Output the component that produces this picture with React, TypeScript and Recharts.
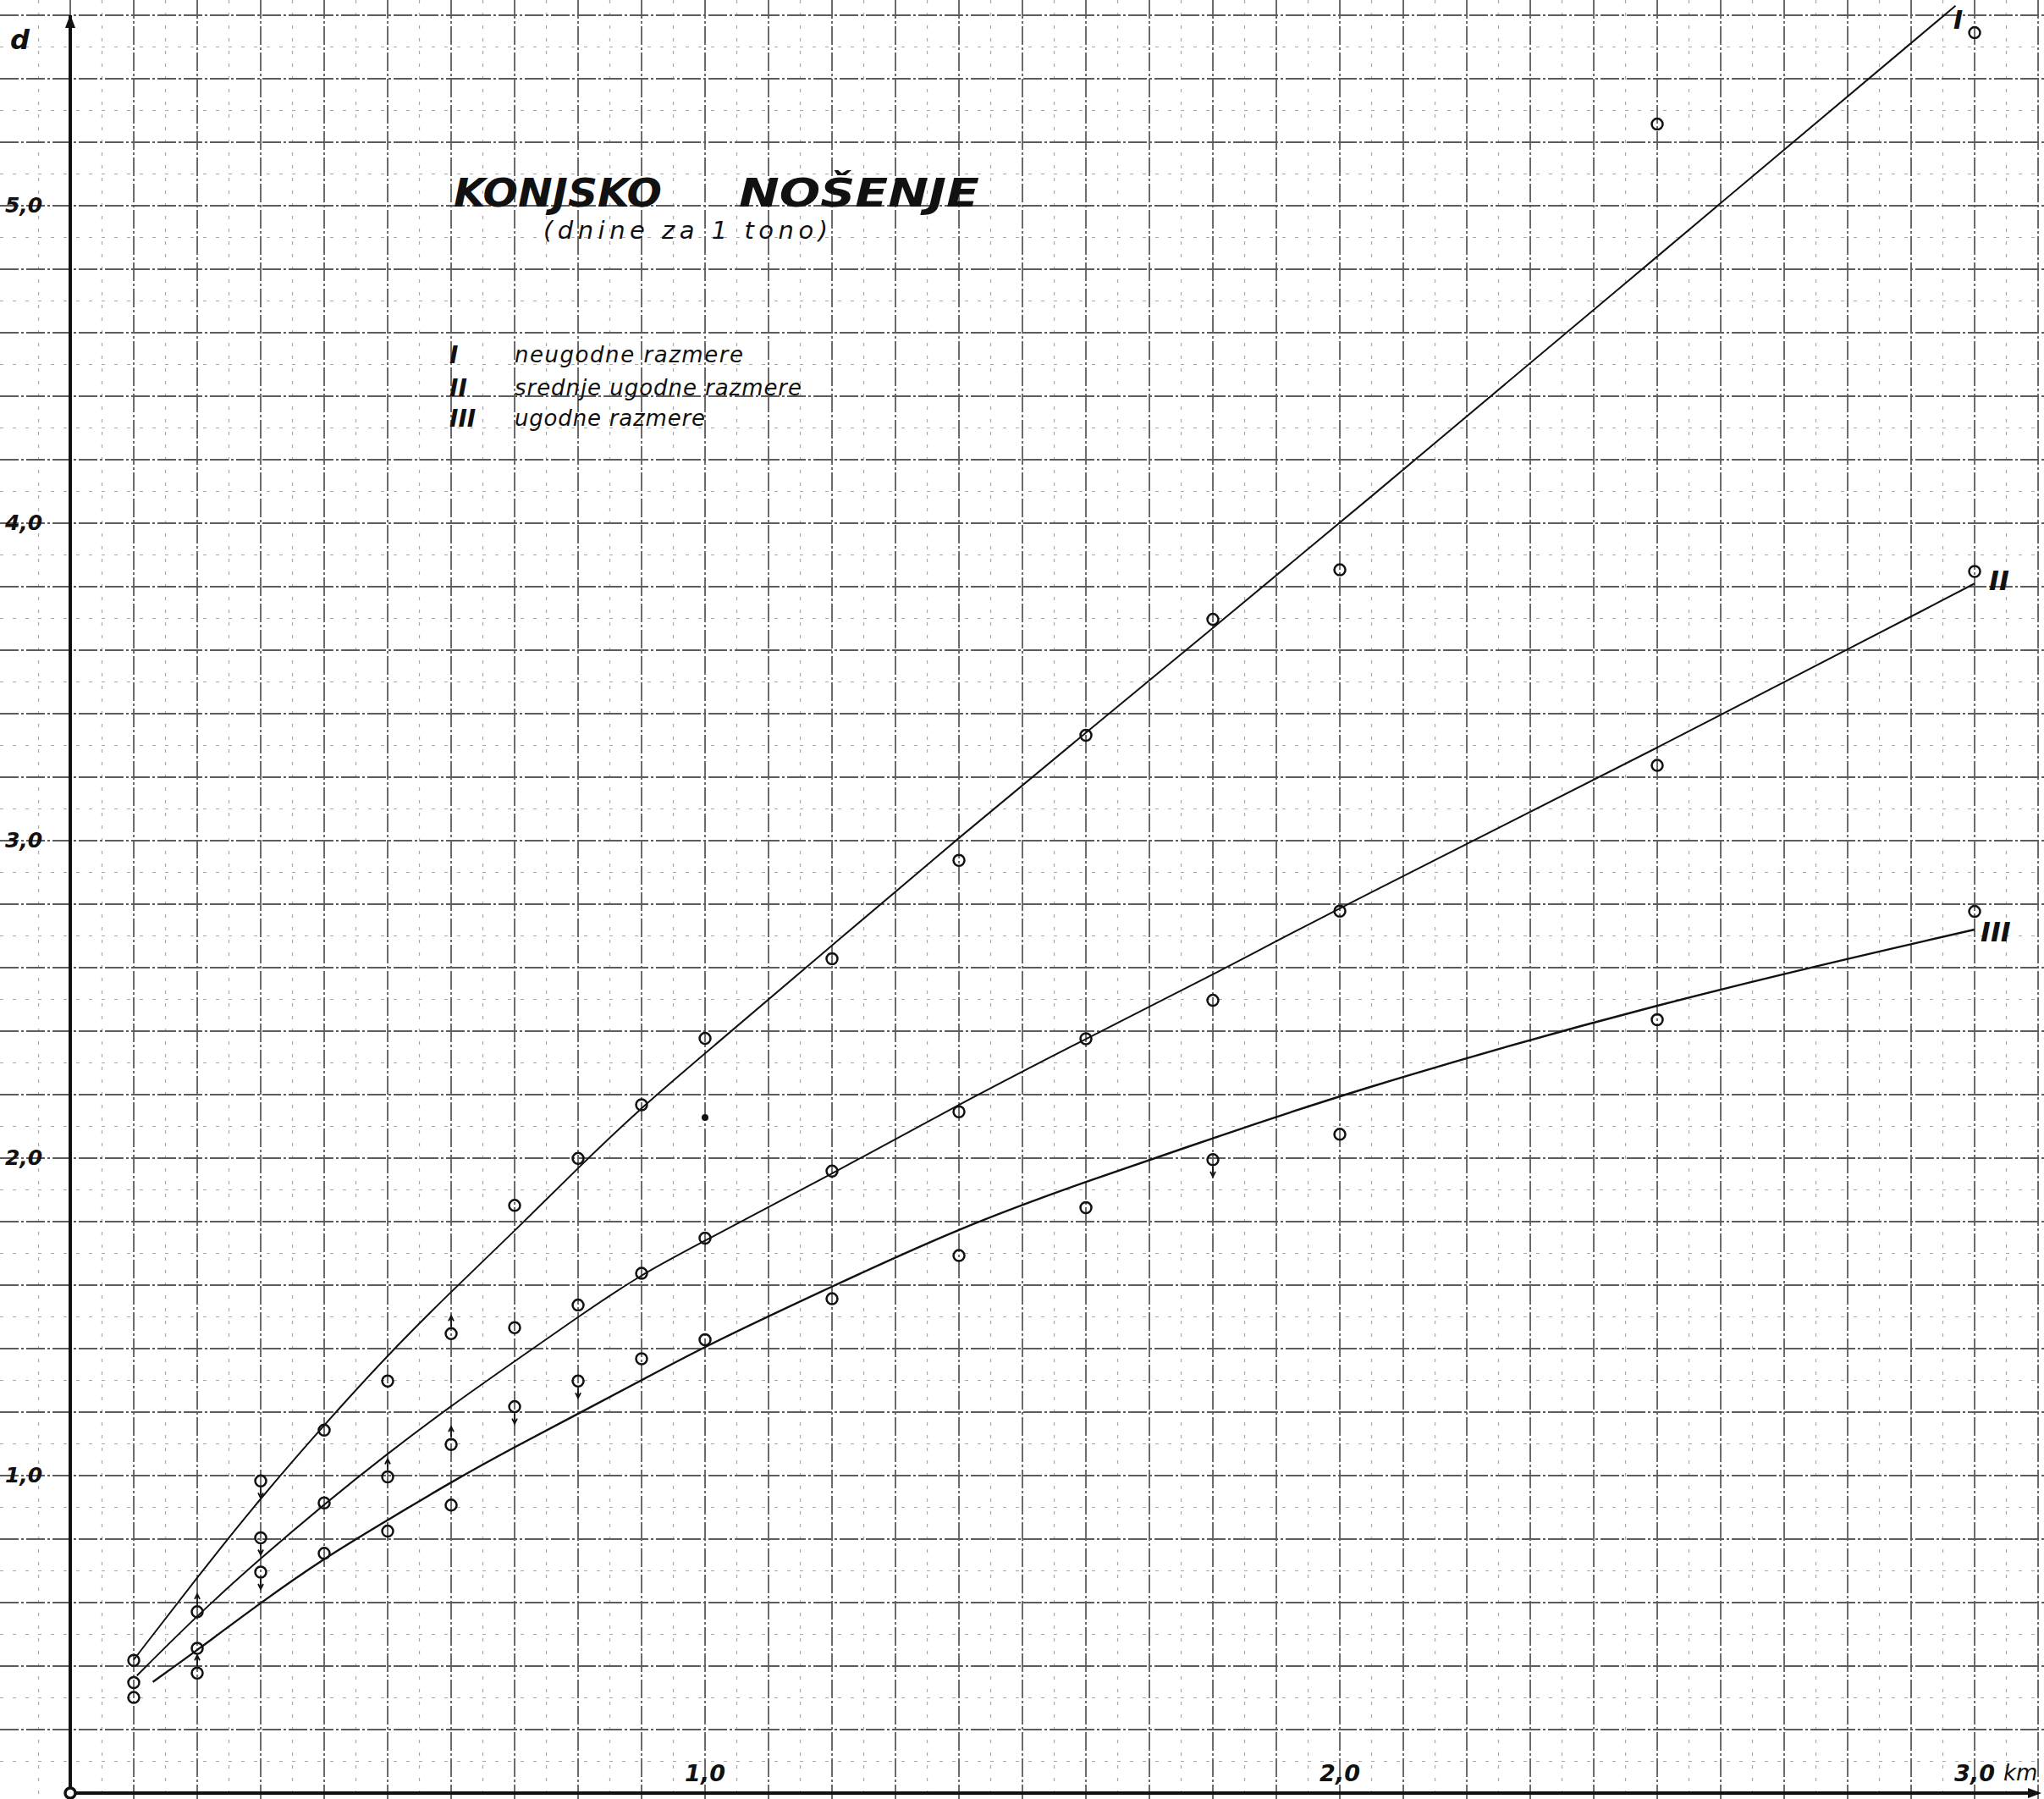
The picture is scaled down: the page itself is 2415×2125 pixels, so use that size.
import React from "react";
import {
  CartesianGrid,
  ComposedChart,
  Line,
  ReferenceDot,
  ReferenceLine,
  Scatter,
  XAxis,
  YAxis,
} from "recharts";

const W = 2415;
const H = 2125;

// razdalja v km (os x) in dnine za 1 tono (os y)
const X_DOMAIN: [number, number] = [-0.1107, 3.1093];
const Y_DOMAIN: [number, number] = [-0.0187, 5.648];

const distances = [0.1, 0.2, 0.3, 0.4, 0.5, 0.6, 0.7, 0.8, 0.9, 1.0, 1.2, 1.4, 1.6, 1.8, 2.0, 2.5, 3.0];
const measuredUpper = [0.418, 0.571, 0.983, 1.143, 1.298, 1.447, 1.851, 1.999, 2.168, 2.377, 2.628, 2.938, 3.332, 3.697, 3.853, 5.257, 5.545];
const measuredMiddle = [0.348, 0.456, 0.804, 0.914, 0.996, 1.098, 1.466, 1.537, 1.637, 1.748, 1.959, 2.146, 2.376, 2.497, 2.778, 3.237, 3.848];
const measuredLower = [0.301, 0.378, 0.696, 0.755, 0.825, 0.907, 1.217, 1.298, 1.368, 1.428, 1.557, 1.693, 1.844, 1.995, 2.075, 2.436, 2.777];
// puščice ob posameznih meritvah
const marksUpper = ["", "up", "down", "", "", "up", "", "", "", "", "", "", "", "", "", "", ""];
const marksMiddle = ["", "", "down", "", "up", "up", "", "", "", "", "", "", "", "", "", "", ""];
const marksLower = ["", "up", "down", "", "", "", "down", "down", "", "", "", "", "", "down", "", "", ""];
const looseDotKm = [1.0];
const looseDotDays = [2.128];

// izravnane krivulje I, II, III
const curveIKm = [0.1, 0.2, 0.3, 0.4, 0.5, 0.6, 0.7, 0.8, 0.9, 1.0, 1.2, 1.4, 1.6, 1.8, 2.0, 2.5, 2.97];
const curveIDays = [0.42, 0.68, 0.93, 1.16, 1.38, 1.58, 1.77, 1.97, 2.16, 2.33, 2.67, 3.01, 3.34, 3.67, 4.0, 4.84, 5.63];
const curveIIKm = [0.105, 0.2, 0.3, 0.4, 0.5, 0.6, 0.7, 0.8, 0.9, 1.0, 1.2, 1.4, 1.6, 1.8, 2.0, 2.5, 3.0];
const curveIIDays = [0.37, 0.56, 0.74, 0.91, 1.07, 1.22, 1.36, 1.5, 1.635, 1.74, 1.95, 2.17, 2.376, 2.577, 2.79, 3.29, 3.81];
const curveIIIKm = [0.13, 0.2, 0.3, 0.4, 0.5, 0.6, 0.7, 0.8, 0.9, 1.0, 1.2, 1.4, 1.6, 1.8, 2.0, 2.5, 3.0];
const curveIIIDays = [0.35, 0.45, 0.6, 0.74, 0.86, 0.98, 1.09, 1.195, 1.3, 1.408, 1.596, 1.78, 1.927, 2.062, 2.2, 2.49, 2.72];

const kmTicks = [1, 2, 3];
const kmTickLabels = ["1,0", "2,0", "3,0"];
const dayTicks = [1, 2, 3, 4, 5];
const dayTickLabels = ["1,0", "2,0", "3,0", "4,0", "5,0"];

const legendNumerals = ["I", "II", "III"];
const legendTexts = ["neugodne razmere", "srednje ugodne razmere", "ugodne razmere"];

// milimetrski papir: polne črte na 0,1 km / 0,2 dnine, vmesne črtkane
const gridKmMajor = Array.from({ length: 33 }, (_, i) => Math.round((i - 1) * 10) / 100);
const gridKmMinor = Array.from({ length: 32 }, (_, i) => Math.round(i * 10 - 5) / 100);
const gridDaysMajor = Array.from({ length: 29 }, (_, i) => Math.round(i * 2) / 10);
const gridDaysMinor = Array.from({ length: 28 }, (_, i) => Math.round(i * 2 + 1) / 10);

const toPoints = (xs: number[], ys: number[], marks?: string[]) =>
  xs.map((x, i) => ({ x, y: ys[i], mark: marks ? marks[i] : "" }));

const FONT = "'DejaVu Sans', sans-serif";
const INK = "#111";

function Ring(props: any) {
  const { cx, cy } = props;
  if (cx == null || cy == null) return null;
  const mark = props.payload?.mark ?? props.mark;
  return (
    <g>
      <circle cx={cx} cy={cy} r={6.5} fill="none" stroke={INK} strokeWidth={2.5} />
      {mark === "up" && (
        <g stroke={INK} strokeWidth={1.8} fill="none">
          <line x1={cx} y1={cy - 8} x2={cx} y2={cy - 20} />
          <path d={`M${cx - 3},${cy - 15} L${cx},${cy - 21} L${cx + 3},${cy - 15}`} />
        </g>
      )}
      {mark === "down" && (
        <g stroke={INK} strokeWidth={1.8} fill="none">
          <line x1={cx} y1={cy + 8} x2={cx} y2={cy + 19} />
          <path d={`M${cx - 3},${cy + 14} L${cx},${cy + 20} L${cx + 3},${cy + 14}`} />
        </g>
      )}
    </g>
  );
}

function Blob(props: any) {
  const { cx, cy } = props;
  if (cx == null || cy == null) return null;
  return <circle cx={cx} cy={cy} r={4} fill={INK} />;
}

function UpArrow(props: any) {
  const { cx, cy } = props;
  if (cx == null || cy == null) return null;
  return <path d={`M${cx},${cy - 1} L${cx - 6},${cy + 15} L${cx + 6},${cy + 15} Z`} fill={INK} />;
}

function RightArrow(props: any) {
  const { cx, cy } = props;
  if (cx == null || cy == null) return null;
  return <path d={`M${cx + 4},${cy} L${cx - 12},${cy - 6} L${cx - 12},${cy + 6} Z`} fill={INK} />;
}

function OriginRing(props: any) {
  const { cx, cy } = props;
  if (cx == null || cy == null) return null;
  return <circle cx={cx} cy={cy} r={6} fill="#fff" stroke={INK} strokeWidth={3.5} />;
}

// oznake osi x stojijo tik nad osjo
function KmLabel(props: any & { idx: number }) {
  const { cx, cy, idx } = props;
  if (cx == null || cy == null) return null;
  return (
    <g fontFamily={FONT} fill={INK} fontStyle="italic">
      <text x={cx} y={cy - 14} textAnchor="middle" fontWeight={700} fontSize={27}>
        {kmTickLabels[idx]}
      </text>
      {idx === kmTicks.length - 1 && (
        <text x={cx + 34} y={cy - 15} fontSize={26}>
          km
        </text>
      )}
    </g>
  );
}

// oznake osi y stojijo levo od osi, na sami črti
function DayLabel(props: any & { idx: number }) {
  const { cx, cy, idx } = props;
  if (cx == null || cy == null) return null;
  return (
    <text x={cx - 55} y={cy + 8} textAnchor="middle" fontFamily={FONT} fontStyle="italic" fontWeight={700} fontSize={25} fill={INK}>
      {dayTickLabels[idx]}
    </text>
  );
}

export default function App() {
  const upper = toPoints(distances, measuredUpper, marksUpper);
  const middle = toPoints(distances, measuredMiddle, marksMiddle);
  const lower = toPoints(distances, measuredLower, marksLower);
  const loose = toPoints(looseDotKm, looseDotDays);

  return (
    <div style={{ position: "absolute", left: 0, top: 0, width: W, height: H, background: "#fff" }}>
      <ComposedChart width={W} height={H} margin={{ top: 0, right: 0, bottom: 0, left: 0 }}>
        <CartesianGrid
          verticalValues={gridKmMinor}
          horizontalValues={gridDaysMinor}
          stroke="#a8a8a8"
          strokeWidth={1.2}
          strokeDasharray="4 11"
        />
        <CartesianGrid
          verticalValues={gridKmMajor}
          horizontalValues={gridDaysMajor}
          stroke="#5c5c5c"
          strokeWidth={1.8}
          strokeDasharray="22 3 3 3"
        />
        <XAxis type="number" dataKey="x" domain={X_DOMAIN} allowDataOverflow ticks={kmTicks} hide />
        <YAxis type="number" dataKey="y" domain={Y_DOMAIN} allowDataOverflow ticks={dayTicks} hide />

        {/* osi */}
        <ReferenceLine segment={[{ x: 0, y: 0 }, { x: 0, y: 5.6 }]} stroke={INK} strokeWidth={4} />
        <ReferenceLine segment={[{ x: 0, y: 0 }, { x: 3.1, y: 0 }]} stroke={INK} strokeWidth={4} />
        <ReferenceDot x={0} y={5.6} r={1} shape={(p: any) => <UpArrow {...p} />} />
        <ReferenceDot x={3.1} y={0} r={1} shape={(p: any) => <RightArrow {...p} />} />
        {kmTicks.map((v, i) => (
          <ReferenceDot key={`km-${v}`} x={v} y={0} r={1} shape={(p: any) => <KmLabel {...p} idx={i} />} />
        ))}
        {dayTicks.map((v, i) => (
          <ReferenceDot key={`d-${v}`} x={0} y={v} r={1} shape={(p: any) => <DayLabel {...p} idx={i} />} />
        ))}

        <Line data={toPoints(curveIKm, curveIDays)} dataKey="y" type="basis" stroke={INK} strokeWidth={2} dot={false} activeDot={false} isAnimationActive={false} />
        <Line data={toPoints(curveIIKm, curveIIDays)} dataKey="y" type="basis" stroke={INK} strokeWidth={2} dot={false} activeDot={false} isAnimationActive={false} />
        <Line data={toPoints(curveIIIKm, curveIIIDays)} dataKey="y" type="basis" stroke={INK} strokeWidth={2.4} dot={false} activeDot={false} isAnimationActive={false} />

        <Scatter data={upper} dataKey="y" shape={(p: any) => <Ring {...p} />} isAnimationActive={false} />
        <Scatter data={middle} dataKey="y" shape={(p: any) => <Ring {...p} />} isAnimationActive={false} />
        <Scatter data={lower} dataKey="y" shape={(p: any) => <Ring {...p} />} isAnimationActive={false} />
        <Scatter data={loose} dataKey="y" shape={(p: any) => <Blob {...p} />} isAnimationActive={false} />

        <ReferenceDot x={0} y={0} r={1} shape={(p: any) => <OriginRing {...p} />} />
      </ComposedChart>

      <svg width={W} height={H} style={{ position: "absolute", left: 0, top: 0, pointerEvents: "none" }}>
        <g fontFamily={FONT} fill={INK}>
          <text x={12} y={58} fontSize={32} fontStyle="italic" fontWeight={700}>d</text>

          <text x={536} y={244} fontSize={46} fontStyle="italic" fontWeight={700} textLength={246} lengthAdjust="spacingAndGlyphs">
            KONJSKO
          </text>
          <text x={873} y={244} fontSize={46} fontStyle="italic" fontWeight={700} textLength={284} lengthAdjust="spacingAndGlyphs">
            NOŠENJE
          </text>
          <text x={642} y={282} fontSize={29} fontStyle="italic" textLength={336} lengthAdjust="spacing">
            (dnine za 1 tono)
          </text>

          {legendNumerals.map((n, i) => (
            <text key={n} x={531} y={[429, 468, 504][i]} fontSize={28} fontStyle="italic" fontWeight={700}>
              {n}
            </text>
          ))}
          {legendTexts.map((t, i) => (
            <text key={t} x={608} y={[428, 467, 503][i]} fontSize={26} fontStyle="italic" textLength={[270, 339, 225][i]} lengthAdjust="spacing">
              {t}
            </text>
          ))}

          <text x={2308} y={34} fontSize={30} fontStyle="italic" fontWeight={700}>I</text>
          <text x={2350} y={697} fontSize={32} fontStyle="italic" fontWeight={700}>II</text>
          <text x={2340} y={1112} fontSize={32} fontStyle="italic" fontWeight={700}>III</text>
        </g>
      </svg>
    </div>
  );
}
